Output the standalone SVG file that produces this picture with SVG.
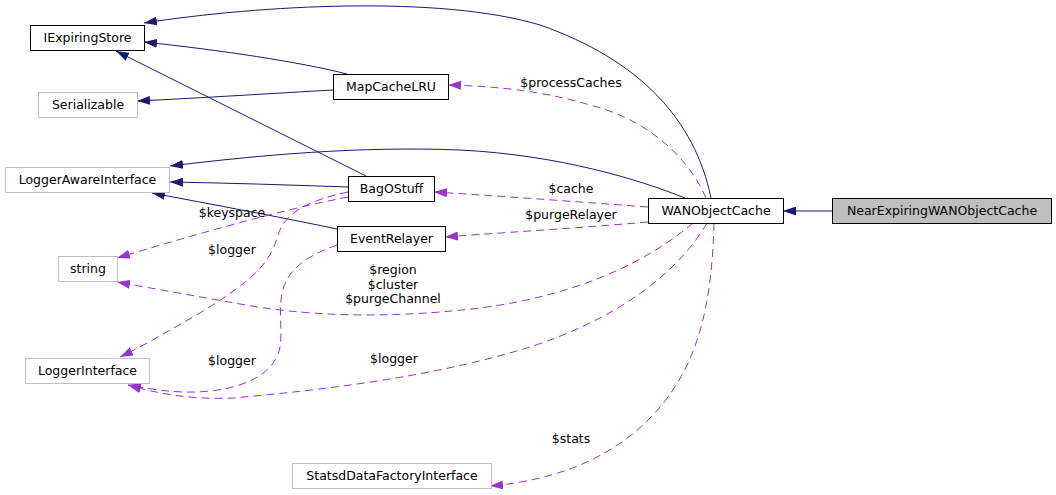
<svg xmlns="http://www.w3.org/2000/svg" width="1056" height="495" viewBox="0 0 1056 495">
<style>
.box{fill:#ffffff;stroke:#000000;stroke-width:1}
.ext{fill:#ffffff;stroke:#bfbfbf;stroke-width:1}
.cur{fill:#bfbfbf;stroke:#000000;stroke-width:1}
text{font-family:"DejaVu Sans",sans-serif;font-size:12.5px;fill:#000000;text-anchor:middle}
.inh{fill:none;stroke:#191970;stroke-width:1}
.use{fill:none;stroke:#9a32cd;stroke-width:1;stroke-dasharray:8,5}
</style>
<defs>
<marker id="an" markerUnits="userSpaceOnUse" markerWidth="13" markerHeight="9" viewBox="0 0 13 9" refX="13" refY="4.5" orient="auto">
<path d="M0,0 L13,4.5 L0,9 z" fill="#191970"/>
</marker>
<marker id="ap" markerUnits="userSpaceOnUse" markerWidth="13" markerHeight="9" viewBox="0 0 13 9" refX="13" refY="4.5" orient="auto">
<path d="M0,0 L13,4.5 L0,9 z" fill="#9a32cd"/>
</marker>
</defs>
<rect width="1056" height="495" fill="#ffffff"/>
<g id="connectors">
<path class="inh" marker-end="url(#an)" d="M711,198 C695,120 640,60 540,25 C440,-5 260,5 144,23"/>
<path class="inh" marker-end="url(#an)" d="M347,74 C300,62 220,50 144,42"/>
<path class="inh" marker-end="url(#an)" d="M333,90 C280,93 200,98 137,101"/>
<path class="inh" marker-end="url(#an)" d="M366,176 L116,51"/>
<path class="inh" marker-end="url(#an)" d="M685,198 C640,180 560,155 460,150 C360,146 260,155 170,166"/>
<path class="inh" marker-end="url(#an)" d="M348,187 C290,185 230,183 170,182"/>
<path class="inh" marker-end="url(#an)" d="M337,229 C280,217 210,204 152,193"/>
<path class="inh" marker-end="url(#an)" d="M832,211 L783,211"/>
<path class="use" marker-end="url(#ap)" d="M706,198 C690,160 650,120 590,105 C540,90 490,86 448,85"/>
<path class="use" marker-end="url(#ap)" d="M648,207 C580,202 500,196 434,192"/>
<path class="use" marker-end="url(#ap)" d="M648,222 C580,228 510,232 445,237"/>
<path class="use" marker-end="url(#ap)" d="M348,197 C280,210 190,236 117,258"/>
<path class="use" marker-end="url(#ap)" d="M348,192 C310,200 285,212 278,235 C270,265 250,282 200,313 C170,330 145,345 120,357"/>
<path class="use" marker-end="url(#ap)" d="M337,245 C300,258 283,275 281,300 C279,325 285,345 275,360 C260,385 220,393 183,392 C160,391 145,388 128,385"/>
<path class="use" marker-end="url(#ap)" d="M693,223 C650,260 580,295 480,308 C380,320 300,315 240,304 C190,295 150,288 117,282"/>
<path class="use" marker-end="url(#ap)" d="M707,223 C680,270 620,320 520,350 C420,380 300,392 233,398 C190,400 155,393 128,385"/>
<path class="use" marker-end="url(#ap)" d="M714,223 C712,300 700,360 660,407 C620,455 560,480 490,486"/>
<text x="571" y="87">$processCaches</text>
<text x="571" y="193">$cache</text>
<text x="571" y="219">$purgeRelayer</text>
<text x="232" y="217">$keyspace</text>
<text x="232" y="254">$logger</text>
<text x="232" y="365">$logger</text>
<text x="393" y="274">$region</text>
<text x="393" y="289">$cluster</text>
<text x="393" y="303">$purgeChannel</text>
<text x="394" y="363">$logger</text>
<text x="571" y="443">$stats</text>
</g>
<g id="IExpiringStore"><rect class="box" x="30.5" y="25.5" width="114" height="25"/><text x="87.5" y="42">IExpiringStore</text></g>
<g id="Serializable"><rect class="ext" x="38.5" y="92.5" width="99" height="25"/><text x="88" y="109">Serializable</text></g>
<g id="MapCacheLRU"><rect class="box" x="333.5" y="74.5" width="115" height="25"/><text x="391" y="91">MapCacheLRU</text></g>
<g id="LoggerAwareInterface"><rect class="ext" x="5.5" y="167.5" width="164" height="25"/><text x="87.5" y="184">LoggerAwareInterface</text></g>
<g id="BagOStuff"><rect class="box" x="348.5" y="176.5" width="86" height="25"/><text x="391.5" y="193">BagOStuff</text></g>
<g id="EventRelayer"><rect class="box" x="337.5" y="226.5" width="108" height="25"/><text x="391.5" y="243">EventRelayer</text></g>
<g id="WANObjectCache"><rect class="box" x="648.5" y="198.5" width="135" height="25"/><text x="716" y="215">WANObjectCache</text></g>
<g id="NearExpiringWANObjectCache"><rect class="cur" x="832.5" y="198.5" width="219" height="25"/><text x="942" y="215">NearExpiringWANObjectCache</text></g>
<g id="string"><rect class="ext" x="58.5" y="256.5" width="59" height="25"/><text x="88" y="273">string</text></g>
<g id="LoggerInterface"><rect class="ext" x="25.5" y="358.5" width="124" height="25"/><text x="87.5" y="375">LoggerInterface</text></g>
<g id="StatsdDataFactoryInterface"><rect class="ext" x="292.5" y="463.5" width="199" height="25"/><text x="392" y="480">StatsdDataFactoryInterface</text></g>
</svg>
